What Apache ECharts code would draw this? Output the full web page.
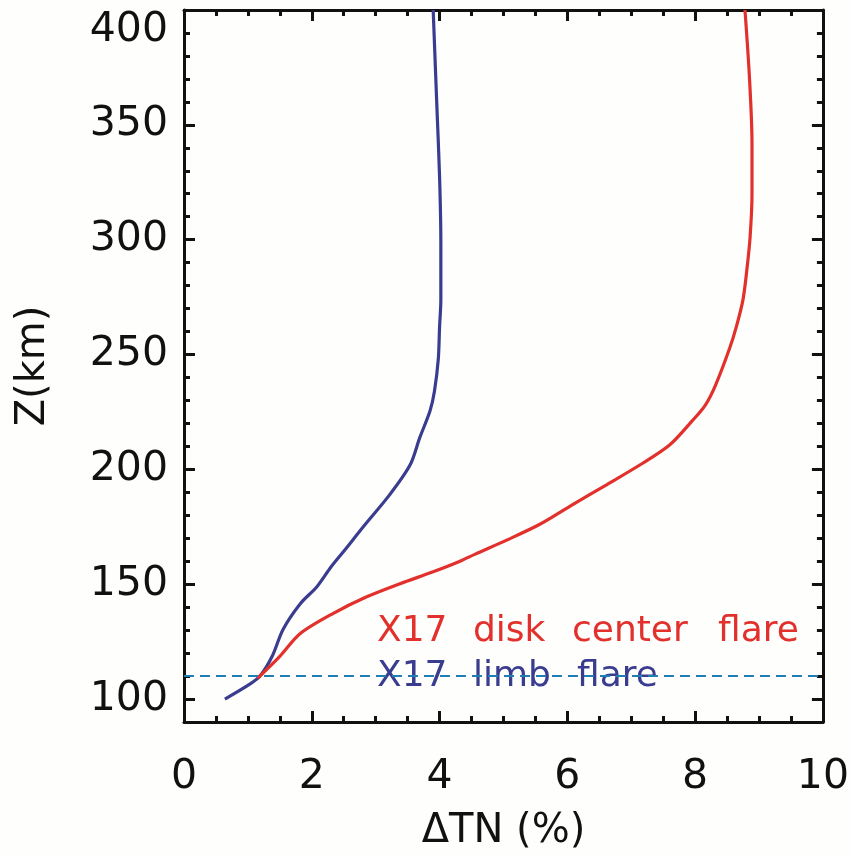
<!DOCTYPE html>
<html>
<head>
<meta charset="utf-8">
<title>ΔTN vs altitude</title>
<script src="https://cdn.jsdelivr.net/npm/echarts@6/dist/echarts.min.js"></script>
<style>
  html, body { margin: 0; padding: 0; background: #fefefc; }
  #chart { width: 852px; height: 857px; }
</style>
</head>
<body>
<div id="chart"></div>
<script>
// Altitude profiles of neutral temperature change for the two X17 flares
const zLimb = [100, 106.5, 110, 118.6, 130.3, 141.5, 148.9, 157.5, 165, 174.8, 189, 202, 213.8, 225.4, 234, 248, 262, 274, 299, 327.5, 356.5, 400];
const dtnLimb = [0.64, 1.03, 1.19, 1.38, 1.55, 1.82, 2.08, 2.30, 2.52, 2.80, 3.22, 3.54, 3.69, 3.85, 3.92, 3.98, 4.0, 4.02, 4.02, 4.0, 3.96, 3.90];

const zCenter = [109, 118.6, 128.5, 137.2, 144.5, 150.2, 155.4, 160, 163, 169.2, 176.1, 184.8, 193.4, 202, 210.6, 221, 228, 236.7, 252.7, 262.6, 274, 287, 301, 320, 342, 370.7, 400];
const dtnCenter = [1.15, 1.50, 1.82, 2.33, 2.86, 3.38, 3.90, 4.32, 4.55, 5.05, 5.57, 6.09, 6.62, 7.14, 7.60, 7.95, 8.16, 8.32, 8.54, 8.65, 8.75, 8.81, 8.86, 8.89, 8.89, 8.85, 8.78];

const referenceAltitude = 110;

const xTickLabels = [0, 2, 4, 6, 8, 10];
const yTickLabels = [100, 150, 200, 250, 300, 350, 400];

const seriesNames = ['X17 disk center flare', 'X17 limb flare'];
const seriesColors = ['#e2302c', '#3a3d8f'];

const FONT = 'DejaVu Sans';
const INK = '#111';
const frameLine = { show: true, lineStyle: { color: INK, width: 3 } };

const toPairs = (xs, ys) => xs.map((x, i) => [x, ys[i]]);

// Legend captions are set word by word to keep the wide word spacing
const legendLayout = [
  { top: 614, lefts: [377, 473, 572, 718] },
  { top: 659, lefts: [377, 473, 577] }
];
const legendGraphics = [];
seriesNames.forEach((name, si) => {
  name.split(' ').forEach((word, wi) => {
    legendGraphics.push({
      type: 'text',
      left: legendLayout[si].lefts[wi],
      top: legendLayout[si].top,
      style: { text: word, fill: seriesColors[si], font: '36px "DejaVu Sans"' }
    });
  });
});

const chart = echarts.init(document.getElementById('chart'));

const yBase = { type: 'value', min: 90, max: 400, splitLine: { show: false } };
const xBase = { type: 'value', min: 0, max: 10, interval: 2, splitLine: { show: false } };
const majorTick = { inside: true, length: 11, lineStyle: { color: INK, width: 3 } };
const minorTickX = { show: true, splitNumber: 4, length: 6, lineStyle: { color: INK, width: 3 } };

chart.setOption({
  backgroundColor: '#fefefc',
  animation: false,
  grid: { left: 184, top: 10, right: 29, bottom: 131, containLabel: false },
  xAxis: [
    Object.assign({}, xBase, {
      position: 'bottom',
      name: 'ΔTN (%)',
      nameLocation: 'middle',
      nameGap: 90,
      nameTextStyle: { fontFamily: FONT, fontSize: 40, color: INK },
      axisLine: frameLine,
      axisTick: majorTick,
      minorTick: minorTickX,
      axisLabel: {
        fontFamily: FONT, fontSize: 41, color: INK, margin: 35,
        customValues: xTickLabels
      }
    }),
    Object.assign({}, xBase, {
      position: 'top',
      axisLine: frameLine,
      axisTick: majorTick,
      minorTick: minorTickX,
      axisLabel: { show: false }
    })
  ],
  yAxis: [
    // minor ticks every 10 km, left frame
    Object.assign({}, yBase, {
      position: 'left',
      interval: 10,
      axisLine: frameLine,
      axisTick: { inside: true, length: 6, lineStyle: { color: INK, width: 3 } },
      axisLabel: { show: false }
    }),
    // major ticks and labels, left
    Object.assign({}, yBase, {
      position: 'left',
      name: 'Z(km)',
      nameLocation: 'middle',
      nameGap: 130,
      nameTextStyle: { fontFamily: FONT, fontSize: 40, color: INK },
      axisLine: { show: false },
      axisTick: Object.assign({ customValues: yTickLabels }, majorTick),
      axisLabel: {
        fontFamily: FONT, fontSize: 41, color: INK, margin: 16,
        customValues: yTickLabels,
        verticalAlignMaxLabel: 'top'
      }
    }),
    // right frame, minor ticks
    Object.assign({}, yBase, {
      position: 'right',
      interval: 10,
      axisLine: frameLine,
      axisTick: { inside: true, length: 6, lineStyle: { color: INK, width: 3 } },
      axisLabel: { show: false }
    }),
    // right frame, major ticks
    Object.assign({}, yBase, {
      position: 'right',
      axisLine: { show: false },
      axisTick: Object.assign({ customValues: yTickLabels }, majorTick),
      axisLabel: { show: false }
    })
  ],
  series: [
    {
      name: seriesNames[1],
      type: 'line',
      xAxisIndex: 0,
      yAxisIndex: 0,
      data: toPairs(dtnLimb, zLimb),
      smooth: 0.3,
      showSymbol: false,
      lineStyle: { color: seriesColors[1], width: 3.2 },
      z: 3
    },
    {
      name: seriesNames[0],
      type: 'line',
      xAxisIndex: 0,
      yAxisIndex: 0,
      data: toPairs(dtnCenter, zCenter),
      smooth: 0.3,
      showSymbol: false,
      lineStyle: { color: seriesColors[0], width: 3.2 },
      z: 4,
      markLine: {
        silent: true,
        symbol: 'none',
        label: { show: false },
        lineStyle: { color: '#1f7fb3', width: 2, type: [10, 6] },
        data: [{ yAxis: referenceAltitude }]
      }
    }
  ],
  graphic: legendGraphics
});
</script>
</body>
</html>
